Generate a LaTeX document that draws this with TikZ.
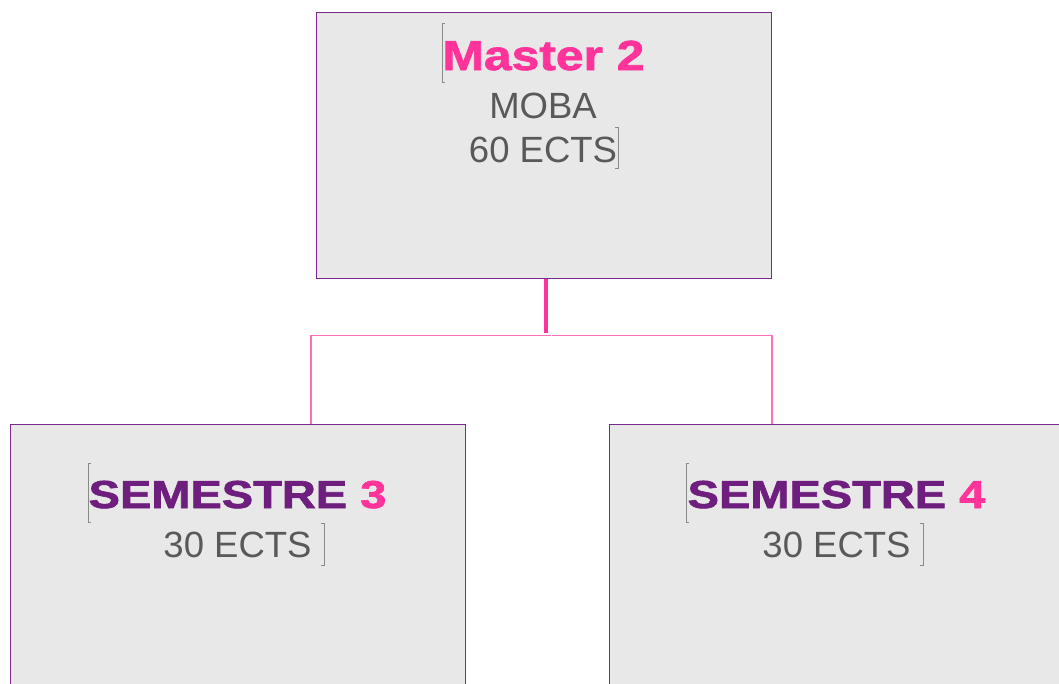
\documentclass[tikz,border=0pt]{standalone}
\usepackage{fontspec}
\setmainfont{Liberation Sans}
\newfontfamily\heavyfont[FakeBold=1.6]{Liberation Sans Bold}
\definecolor{boxgray}{HTML}{E8E8E8}
\definecolor{boxpurple}{HTML}{7A2A8C}
\definecolor{hotpink}{HTML}{FF3399}
\definecolor{linepink}{HTML}{FF6FB7}
\definecolor{txtgray}{HTML}{595959}
\definecolor{darkpurple}{HTML}{6E1F7E}
\definecolor{cursorgray}{HTML}{8A8A8A}
\begin{document}
\begin{tikzpicture}[x=1pt,y=-1pt,
  box/.style={draw=boxpurple, line width=1.1pt, fill=boxgray, inner sep=0pt,
    minimum width=455pt, anchor=north west},
  title/.style={anchor=base, inner sep=0pt, font=\heavyfont\fontsize{42}{50}\selectfont, text=hotpink},
  semtitle/.style={anchor=base, inner sep=0pt, font=\heavyfont\fontsize{39}{46}\selectfont, text=darkpurple},
  sub/.style={anchor=base, inner sep=0pt, font=\fontsize{36.5}{44}\selectfont, text=txtgray},
  thickconn/.style={draw=hotpink, line width=4pt},
  thinconn/.style={draw=linepink, line width=1.6pt},
  cursor/.style={draw=cursorgray, line width=0.8pt}
]
\clip (0,0) rectangle (1059,683);
\useasboundingbox (0,0) rectangle (1059,683);

% boxes
\node[box, minimum height=266pt] (top) at (316,12) {};
\node[box, minimum height=300pt] (s3) at (10,424) {};
\node[box, minimum height=300pt] (s4) at (609,424) {};

% texts top
\node[title] (m2) at (543.5,70) {\scalebox{1.185}[1]{Master 2}};
\node[sub] (moba) at (543,118) {MOBA};
\node[sub] (e60) at (543,162) {60 ECTS};

% texts bottom left
\node[semtitle] (sem3) at (237.5,508) {\scalebox{1.205}[1]{SEMESTRE \textcolor{hotpink}{3}}};
\node[sub] (e30a) at (237.5,557) {30 ECTS};

% texts bottom right
\node[semtitle] (sem4) at (836.5,508) {\scalebox{1.205}[1]{SEMESTRE \textcolor{hotpink}{4}}};
\node[sub] (e30b) at (836.5,557) {30 ECTS};

% cursors
\draw[cursor] (445,23) -- (442,23) -- (442,82) -- (445,82);
\draw[cursor] (615,127) -- (618,127) -- (618,168) -- (615,168);
\draw[cursor] (91,463) -- (88,463) -- (88,522) -- (91,522);
\draw[cursor] (321,523) -- (324,523) -- (324,565) -- (321,565);
\draw[cursor] (689,463) -- (686,463) -- (686,522) -- (689,522);
\draw[cursor] (920,523) -- (923,523) -- (923,565) -- (920,565);

% connectors
\coordinate (jtop) at (546,278.5);
\coordinate (jbot) at (546,332.5);
\coordinate (jl) at (550.5,335.5);
\coordinate (jr) at (552,335.5);
\path[thickconn] (jtop) -- (jbot);
\path[thinconn] (jl) -| (s3.north -| 311,0);
\path[thinconn] (jr) -| (s4.north -| 772,0);
\end{tikzpicture}
\end{document}
